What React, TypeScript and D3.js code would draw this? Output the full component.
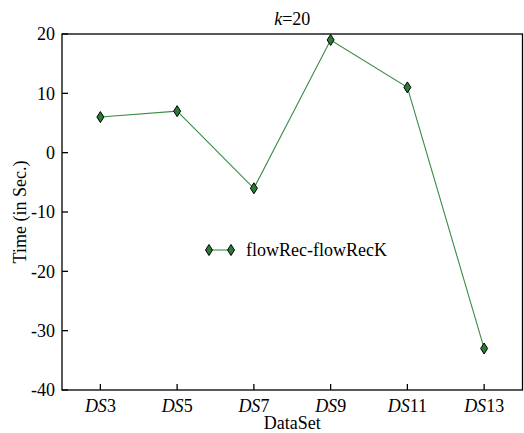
import React from 'react';
import * as d3 from 'd3';

const categories = ['3', '5', '7', '9', '11', '13'];
const diffValues = [6, 7, -6, 19, 11, -33];
const yTicks = [-40, -30, -20, -10, 0, 10, 20];

const W = 524;
const H = 433;
const m = { top: 34, right: 1.5, bottom: 43, left: 62 };

const diamond = (x: number, y: number) =>
  `M${x},${y - 5.5}L${x + 3.5},${y}L${x},${y + 5.5}L${x - 3.5},${y}Z`;

const font = '"Liberation Serif", "Times New Roman", serif';
const fs = 18;

const App = () => {
  const x = d3
    .scalePoint<string>()
    .domain(categories)
    .range([m.left, W - m.right])
    .padding(0.5);
  const y = d3.scaleLinear().domain([-40, 20]).range([H - m.bottom, m.top]);

  const line = d3
    .line<number>()
    .x((_, i) => x(categories[i]) as number)
    .y((d) => y(d));

  return (
    <svg
      width={W}
      height={H}
      style={{ position: 'absolute', left: 0, top: 0, background: '#fff', fontFamily: font }}
    >
      <text x={(m.left + W - m.right) / 2} y={25} textAnchor="middle" fontSize={fs} style={{ fontFamily: font }}>
        <tspan fontStyle="italic">k</tspan>=20
      </text>
      <rect
        x={m.left}
        y={m.top}
        width={W - m.right - m.left}
        height={H - m.bottom - m.top}
        fill="none"
        stroke="#000"
        strokeWidth={1.3}
      />
      {yTicks.map((t) => (
        <g key={t}>
          <line x1={m.left} x2={m.left + 6} y1={y(t)} y2={y(t)} stroke="#000" strokeWidth={1.3} />
          <text x={m.left - 7} y={y(t)} dy="0.35em" textAnchor="end" fontSize={fs} style={{ fontFamily: font }}>
            {t}
          </text>
        </g>
      ))}
      {categories.map((c) => (
        <g key={c}>
          <line
            x1={x(c)}
            x2={x(c)}
            y1={H - m.bottom}
            y2={H - m.bottom - 6}
            stroke="#000"
            strokeWidth={1.3}
          />
          <text x={x(c)} y={412} textAnchor="middle" fontSize={fs} style={{ fontFamily: font }}>
            <tspan fontStyle="italic">DS</tspan>
            {c}
          </text>
        </g>
      ))}
      <text x={(m.left + W - m.right) / 2} y={429} textAnchor="middle" fontSize={fs} style={{ fontFamily: font }}>
        DataSet
      </text>
      <text
        transform={`translate(26,${(m.top + H - m.bottom) / 2}) rotate(-90)`}
        textAnchor="middle"
        fontSize={fs}
        style={{ fontFamily: font }}
      >
        Time (in Sec.)
      </text>
      <path d={line(diffValues) || ''} fill="none" stroke="#3c8c46" strokeWidth={1.1} />
      {diffValues.map((v, i) => (
        <path
          key={i}
          d={diamond(x(categories[i]) as number, y(v))}
          fill="#2a7a38"
          stroke="#000"
          strokeWidth={1}
        />
      ))}
      <g>
        <line x1={209} x2={231} y1={250} y2={250} stroke="#3c8c46" strokeWidth={1.1} />
        <path d={diamond(209, 250)} fill="#2a7a38" stroke="#000" strokeWidth={1} />
        <path d={diamond(231, 250)} fill="#2a7a38" stroke="#000" strokeWidth={1} />
        <text x={246} y={250} dy="0.35em" fontSize={fs} style={{ fontFamily: font }}>
          flowRec-flowRecK
        </text>
      </g>
    </svg>
  );
};

export default App;
